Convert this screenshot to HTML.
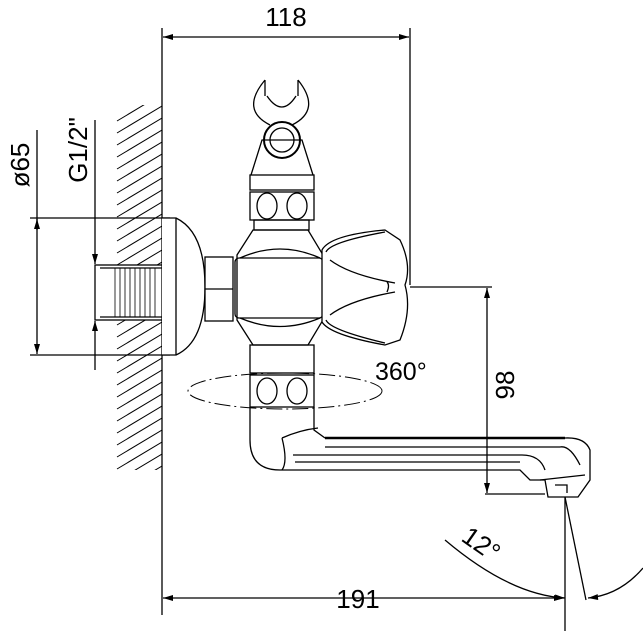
<!DOCTYPE html>
<html><head><meta charset="utf-8"><style>html,body{margin:0;padding:0;background:#fff}svg{display:block}</style></head><body>
<svg width="643" height="631" viewBox="0 0 643 631" xmlns="http://www.w3.org/2000/svg" font-family="Liberation Sans, sans-serif">
<defs>
<marker id="a" viewBox="0 0 10 6" refX="10" refY="3" markerWidth="14" markerHeight="6" markerUnits="userSpaceOnUse" orient="auto-start-reverse"><path d="M0,0 L10,3 L0,6z" fill="#000"/></marker>
<clipPath id="w"><rect x="115" y="105" width="47" height="365"/></clipPath>
</defs>
<g stroke="#000" fill="none" stroke-width="1.3">
<!-- wall hatch -->
<g clip-path="url(#w)" stroke-width="1">
<path d="M117,121 l45,-27 M117,133 l45,-27 M117,145 l45,-27 M117,157 l45,-27 M117,169 l45,-27 M117,181 l45,-27 M117,193 l45,-27 M117,205 l45,-27 M117,217 l45,-27 M117,229 l45,-27 M117,241 l45,-27 M117,253 l45,-27 M117,265 l45,-27 M117,277 l45,-27 M117,289 l45,-27 M117,301 l45,-27 M117,313 l45,-27 M117,325 l45,-27 M117,337 l45,-27 M117,349 l45,-27 M117,361 l45,-27 M117,373 l45,-27 M117,385 l45,-27 M117,397 l45,-27 M117,409 l45,-27 M117,421 l45,-27 M117,433 l45,-27 M117,445 l45,-27 M117,457 l45,-27 M117,469 l45,-27 M117,481 l45,-27 M117,493 l45,-27"/>
</g>
<rect x="95" y="265" width="70" height="55" fill="#fff"/>
<!-- extension lines -->
<line x1="162" y1="28" x2="162" y2="615"/>
<line x1="410" y1="28" x2="410" y2="285"/>
<line x1="163" y1="37" x2="409" y2="37" marker-start="url(#a)" marker-end="url(#a)"/>
<line x1="30" y1="218" x2="170" y2="218"/>
<line x1="30" y1="355" x2="170" y2="355"/>
<line x1="37" y1="130" x2="37" y2="354" marker-end="url(#a)"/>
<line x1="37" y1="219" x2="37" y2="230" marker-start="url(#a)"/>
<line x1="95" y1="120" x2="95" y2="264" marker-end="url(#a)"/>
<line x1="95" y1="321" x2="95" y2="370" marker-start="url(#a)"/>
<!-- thread -->
<path d="M100,268 h62 M100,317 h62"/>
<path d="M115,268 v49 M120,268 v49 M125,268 v49 M130,268 v49 M135,268 v49 M140,268 v49 M145,268 v49 M150,268 v49 M155,268 v49" stroke-width="0.8"/>
<!-- flange -->
<path d="M162,218 h14 Q205,232 205,287 Q205,342 176,355 h-14" fill="#fff"/>
<line x1="176" y1="218" x2="176" y2="355"/>
<!-- hex -->
<rect x="205" y="257" width="28" height="64" fill="#fff"/>
<line x1="205" y1="289" x2="233" y2="289"/>
<!-- body -->
<path d="M253,230 h55 L323,255 L323,320 L308,345 h-55 L237,320 V255 Z" fill="#fff"/>
<path d="M240,258 Q280,240 320,258 M240,318 Q280,335 320,318"/>
<rect x="235" y="258" width="88" height="60" rx="4"/>
<!-- handle -->
<path d="M322,250 Q330,235 385,230 L400,240 Q412,265 405,285 Q412,310 400,340 L385,345 Q330,335 322,322 Z" fill="#fff"/>
<path d="M326,252 Q330,242 385,232 M326,320 Q330,330 385,343 M387,282 Q390,285 387,292"/>
<path d="M330,260 Q350,275 395,283 M330,315 Q350,300 395,292"/>
<!-- upper stack -->
<rect x="254" y="220" width="55" height="10"/>
<rect x="250" y="192" width="64" height="28"/>
<ellipse cx="267" cy="206" rx="10" ry="13"/><ellipse cx="297" cy="206" rx="10" ry="13"/>
<rect x="250" y="175" width="64" height="15"/>
<path d="M251,175 L262,140 H302 L313,175"/>
<circle cx="282" cy="140" r="18" stroke-width="2"/>
<circle cx="282" cy="140" r="12"/>
<path d="M265,80 Q240,110 270,125 M298,80 Q322,110 292,125 M265,80 v16 M298,80 v16 M267,96 Q282,118 296,96"/>
<!-- lower stack -->
<rect x="250" y="345" width="64" height="28"/>
<rect x="250" y="375" width="64" height="32"/>
<ellipse cx="267" cy="391" rx="10" ry="13"/><ellipse cx="297" cy="391" rx="10" ry="13"/>
<ellipse cx="285" cy="391" rx="97" ry="18" stroke-width="1" stroke-dasharray="16,4,2,4"/>
<!-- spout -->
<path d="M250,407 V440 Q250,470 280,470 H520 L530,480 H545 L548,497 L578,497 L590,480 L590,450 Q585,437 565,438 H325 M314,407 V430 L325,438"/>
<path d="M282,438 Q300,430 318,428 M282,438 Q288,462 282,470 M293,455 H522 M295,462 H520 M325,447 H560 M522,455 Q540,455 545,470 M560,447 Q570,445 580,465 M540,480 L585,475 M555,485 h12 v8"/>
<line x1="325" y1="438" x2="565" y2="438" stroke-width="2.5"/>
<!-- 98 dim -->
<line x1="410" y1="287" x2="492" y2="287"/>
<line x1="485" y1="494" x2="545" y2="494"/>
<line x1="487" y1="288" x2="487" y2="493" marker-start="url(#a)" marker-end="url(#a)"/>
<!-- 191 -->
<line x1="163" y1="598" x2="564" y2="598" marker-start="url(#a)" marker-end="url(#a)"/>
<line x1="565" y1="497" x2="565" y2="631"/>
<line x1="565" y1="497" x2="586" y2="600"/>
<!-- 12° arc -->
<path d="M445,540 Q510,595 565,598" marker-end="url(#a)"/>
<path d="M643,568 Q620,595 588,598" marker-end="url(#a)"/>
</g>
<g font-size="26" fill="#000">
<text x="286" y="26" text-anchor="middle">118</text>
<text x="358" y="608" text-anchor="middle">191</text>
<text x="375" y="380" font-size="25">360°</text>
<text transform="translate(514,385) rotate(-90)" text-anchor="middle">98</text>
<text transform="translate(29,165) rotate(-90)" text-anchor="middle">ø65</text>
<text transform="translate(87,150) rotate(-90)" text-anchor="middle">G1/2"</text>
<text transform="translate(460,540) rotate(35)">12°</text>
</g>
</svg>
</body></html>
